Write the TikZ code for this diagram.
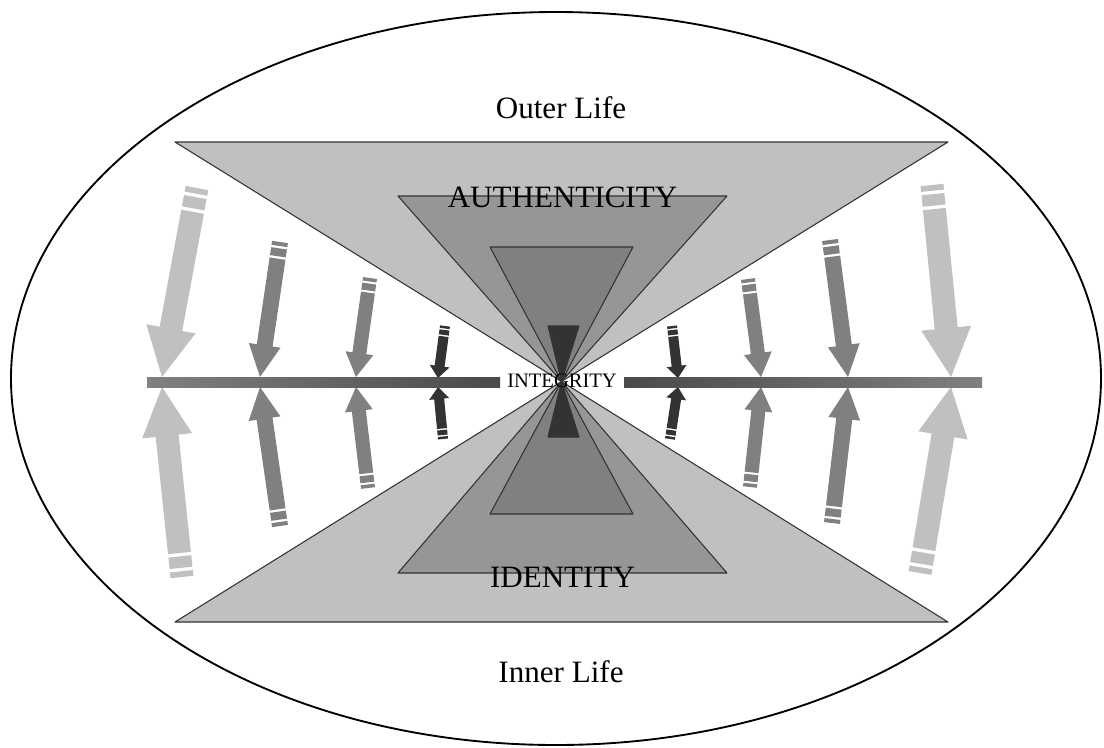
\documentclass[tikz,border=0pt]{standalone}
\usepackage{fontspec}
\setmainfont{Liberation Serif}
\usepackage{xcolor}
\usepackage{tikz}
\usetikzlibrary{calc}
\definecolor{LifeSilver}{RGB}{192, 192, 192}
\definecolor{LifeShade}{RGB}{150, 150, 150}
\definecolor{LifeGrey}{RGB}{128, 128, 128}
\definecolor{LifeBarDark}{RGB}{74, 74, 74}
\definecolor{LifeCharcoal}{RGB}{51, 51, 51}
\tikzset{
  cone/.style={draw=LifeCharcoal, line width=0.8pt, line join=round},
  lifelabel/.style={inner sep=0pt, anchor=base, font=\fontsize{23.3}{26}\selectfont},
}
% #1 colour, #2 tip, #3 tail end, #4 shaft width, #5 head width, #6 head length
\newcommand{\stripedarrow}[6]{%
  \coordinate (tp) at (#2);
  \coordinate (te) at (#3);
  \pgfmathanglebetweenpoints{\pgfpointanchor{tp}{center}}{\pgfpointanchor{te}{center}}%
  \let\arang\pgfmathresult
  \pgfpointdiff{\pgfpointanchor{tp}{center}}{\pgfpointanchor{te}{center}}%
  \pgfgetlastxy{\arx}{\ary}%
  \pgfmathsetmacro{\arlen}{veclen(\arx,\ary)/0.75}%
  \pgfmathsetmacro{\shw}{#4/2}%
  \pgfmathsetmacro{\hdw}{#5/2}%
  \pgfmathsetmacro{\shend}{\arlen-1.05*#4}%
  \begin{scope}[shift={(tp)}, rotate=\arang]
    \fill[#1] (0,0) -- (#6,\hdw) -- (#6,\shw) -- (\shend,\shw) -- (\shend,-\shw)
      -- (#6,-\shw) -- (#6,-\hdw) -- cycle;
    \fill[#1] (\arlen-0.9*#4,-\shw) rectangle (\arlen-0.4*#4,\shw);
    \fill[#1] (\arlen-0.25*#4,-\shw) rectangle (\arlen,\shw);
  \end{scope}
}
\begin{document}
\begin{tikzpicture}[x=0.75pt,y=-0.75pt]
  \path[use as bounding box] (0,0) rectangle (1104,747);
  \draw[black, line width=1.4pt] (556,378.5) ellipse [x radius=545, y radius=366.5];
  \coordinate (apex) at (561.5,381.5);
  % cones
  \draw[cone, fill=LifeSilver] (175,142) -- (948,142) -- (apex) -- cycle;
  \draw[cone, fill=LifeSilver] (175,622) -- (948,622) -- (apex) -- cycle;
  \draw[cone, fill=LifeShade] (398,196) -- (727,196) -- (apex) -- cycle;
  \draw[cone, fill=LifeShade] (398,573) -- (727,573) -- (apex) -- cycle;
  \draw[cone, fill=LifeGrey] (490,247) -- (633,247) -- (apex) -- cycle;
  \draw[cone, fill=LifeGrey] (490,514) -- (633,514) -- (apex) -- cycle;
  \draw[cone, fill=LifeCharcoal] (548,326) -- (579,326) -- (apex) -- cycle;
  \draw[cone, fill=LifeCharcoal] (548,437) -- (579,437) -- (apex) -- cycle;
  % arrows from outer life
  \stripedarrow{LifeSilver}{162,377}{197,188}{23}{50}{49}
  \stripedarrow{LifeGrey}{260,377}{280,242}{16}{32}{32}
  \stripedarrow{LifeGrey}{356,377}{370,278}{14}{28}{24}
  \stripedarrow{LifeCharcoal}{438,378}{445,326}{10}{20}{12}
  \stripedarrow{LifeCharcoal}{678,378}{672,326}{10}{20}{12}
  \stripedarrow{LifeGrey}{761,377}{748,279}{14}{28}{24}
  \stripedarrow{LifeGrey}{848,377}{830,240}{16}{32}{32}
  \stripedarrow{LifeSilver}{951,377}{932,185}{23}{50}{49}
  % arrows from inner life
  \stripedarrow{LifeSilver}{162,387}{182,577}{23}{50}{49}
  \stripedarrow{LifeGrey}{260,387}{280,526}{16}{32}{32}
  \stripedarrow{LifeGrey}{356,387}{368,488}{14}{28}{24}
  \stripedarrow{LifeCharcoal}{438,387}{443,439}{10}{20}{12}
  \stripedarrow{LifeCharcoal}{678,387}{670,439}{10}{20}{12}
  \stripedarrow{LifeGrey}{761,387}{750,487}{14}{28}{24}
  \stripedarrow{LifeGrey}{848,387}{832,523}{16}{32}{32}
  \stripedarrow{LifeSilver}{951,387}{920,573}{23}{50}{49}
  % axis
  \shade[left color=LifeGrey, right color=LifeBarDark] (147,377) rectangle (500,387);
  \shade[left color=LifeBarDark, right color=LifeGrey] (624,377) rectangle (982,387);
  \node[lifelabel] (outer) at (561,118) {Outer Life};
  \node[lifelabel] (inner) at (561,682) {Inner Life};
  \node[lifelabel] (auth) at (562.5,207) {AUTHENTICITY};
  \node[lifelabel] (ident) at (562.5,587) {IDENTITY};
  \node[inner sep=0pt, anchor=base, font=\fontsize{15.4}{18}\selectfont] (integ) at (562,387) {INTEGRITY};
\end{tikzpicture}
\end{document}
